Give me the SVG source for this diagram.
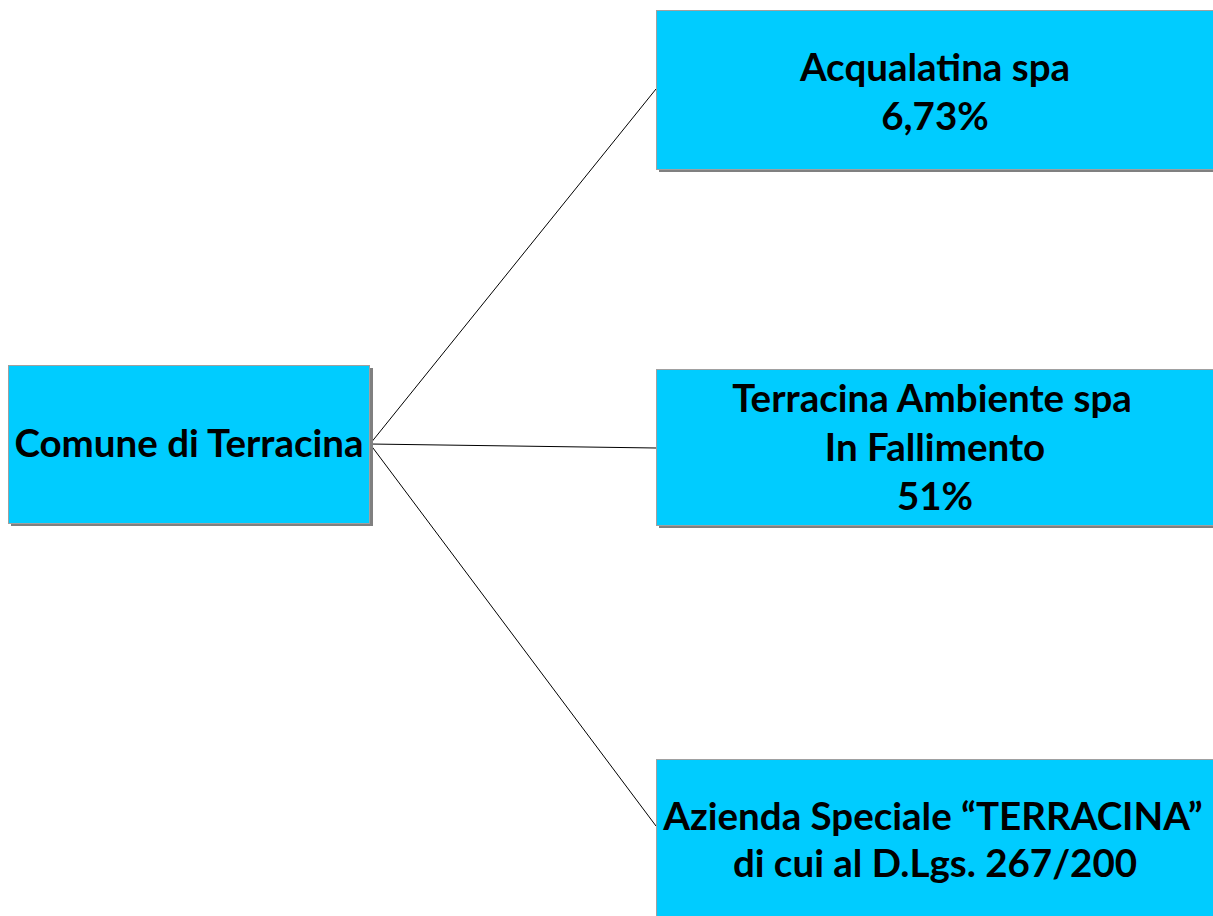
<svg xmlns="http://www.w3.org/2000/svg" width="1213" height="916" viewBox="0 0 1213 916">
<style>
.shadow{fill:#808080}
.box{fill:#00ccff;stroke:#a0a0a0;stroke-width:1}
.t{font-family:Lato,"Open Sans",sans-serif;font-weight:bold;font-size:38.5px;fill:#000;text-anchor:middle}
.c{stroke:#000;stroke-width:1;fill:none}
</style>
<rect width="1213" height="916" fill="#fff"/>
<g id="connectors">
<line class="c" x1="370" y1="444" x2="656" y2="89"/>
<line class="c" x1="370" y1="444" x2="656" y2="448"/>
<line class="c" x1="370" y1="444" x2="656" y2="826"/>
</g>
<g id="comune">
<rect class="shadow" x="11" y="368" width="362" height="158"/>
<rect class="box" x="8.5" y="365.5" width="361" height="158"/>
<text class="t" x="189" y="457">Comune di Terracina</text>
</g>
<g id="acqualatina">
<rect class="shadow" x="659" y="13" width="560" height="159"/>
<rect class="box" x="656.5" y="10.5" width="560" height="159"/>
<text class="t" x="935" y="81">Acqualatina spa</text>
<text class="t" x="935" y="130">6,73%</text>
</g>
<g id="ambiente">
<rect class="shadow" x="659" y="372" width="560" height="156"/>
<rect class="box" x="656.5" y="369.5" width="560" height="156"/>
<text class="t" x="932" y="412">Terracina Ambiente spa</text>
<text class="t" x="935" y="461">In Fallimento</text>
<text class="t" x="935" y="510">51%</text>
</g>
<g id="azienda">
<rect class="shadow" x="659" y="762" width="560" height="160"/>
<rect class="box" x="656.5" y="759.5" width="560" height="160"/>
<text class="t" x="933" y="830">Azienda Speciale “TERRACINA”</text>
<text class="t" x="935" y="877">di cui al D.Lgs. 267/200</text>
</g>
</svg>
